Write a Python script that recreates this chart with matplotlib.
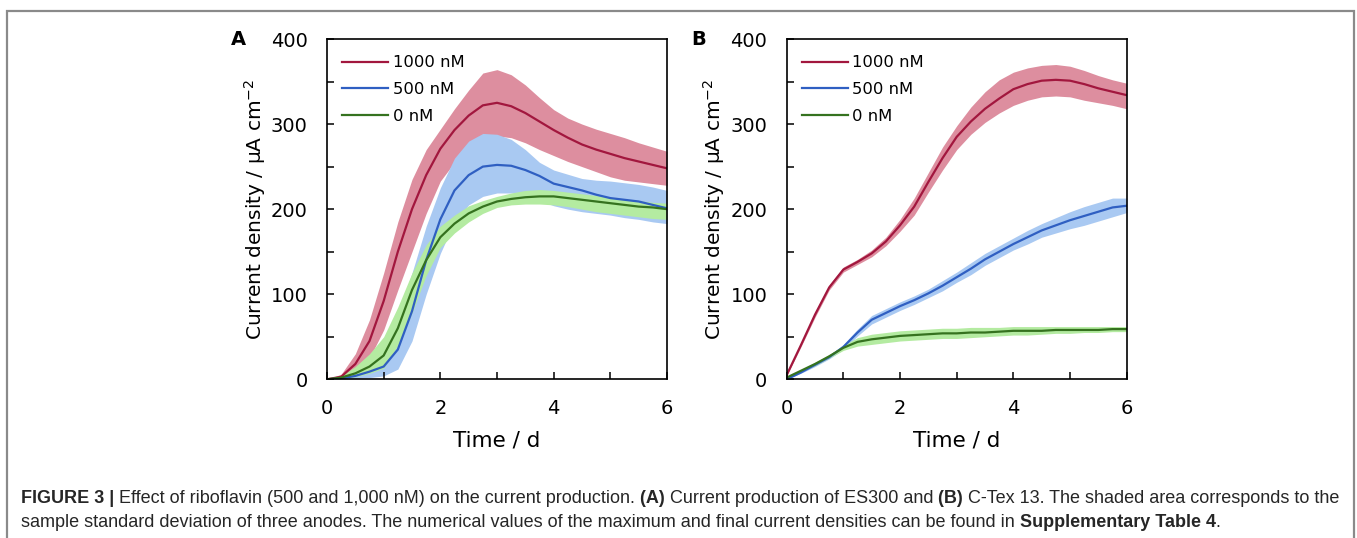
import matplotlib
matplotlib.use('Agg')
import matplotlib.pyplot as plt
from matplotlib import font_manager
from matplotlib.patches import Rectangle
from matplotlib.ticker import MultipleLocator

# sampling times (d)
days = [0, 0.25, 0.5, 0.75, 1, 1.25, 1.5, 1.75, 2, 2.25, 2.5, 2.75, 3,
        3.25, 3.5, 3.75, 4, 4.25, 4.5, 4.75, 5, 5.25, 5.5, 5.75, 6]

# panel A: ES300 (mean, lower, upper) in uA cm-2
a_1000 = [0, 3, 18, 45, 92, 150, 200, 240, 271, 293, 310, 322, 325,
          321, 313, 303, 293, 284, 276, 270, 265, 260, 256, 252, 248]
a_1000_lo = [0, 1, 8, 25, 58, 105, 150, 195, 233, 255, 272, 282, 286,
             284, 278, 270, 263, 256, 250, 244, 238, 234, 232, 230, 228]
a_1000_hi = [0, 6, 30, 70, 125, 185, 235, 270, 294, 318, 340, 360, 364,
             358, 346, 331, 317, 307, 300, 294, 289, 284, 278, 273, 268]
a_500 = [0, 1, 4, 9, 15, 35, 80, 140, 188, 222, 240, 250, 252,
         251, 246, 239, 230, 226, 222, 217, 213, 211, 209, 205, 201]
a_500_lo = [0, 0, 1, 2, 4, 12, 45, 100, 148, 185, 205, 215, 219,
            219, 218, 210, 204, 200, 197, 195, 193, 190, 188, 185, 183]
a_500_hi = [0, 2, 10, 22, 40, 75, 125, 180, 225, 260, 280, 289, 288,
            282, 270, 255, 246, 241, 236, 234, 233, 231, 229, 226, 222]
a_0 = [0, 2, 7, 15, 28, 60, 105, 140, 167, 183, 195, 203, 209,
       212, 214, 215, 215, 213, 211, 209, 207, 205, 203, 202, 200]
a_0_lo = [0, 1, 3, 7, 13, 40, 78, 122, 155, 172, 185, 195, 202,
          205, 206, 206, 205, 203, 200, 197, 195, 193, 191, 189, 188]
a_0_hi = [0, 4, 15, 30, 50, 85, 125, 158, 180, 193, 204, 210, 215,
          219, 222, 223, 222, 220, 218, 216, 214, 212, 210, 208, 207]

# panel B: C-Tex 13
b_1000 = [5, 40, 76, 108, 129, 138, 148, 162, 181, 203, 232, 260, 285,
          303, 318, 330, 341, 347, 351, 352, 351, 347, 342, 338, 334]
b_1000_lo = [4, 38, 73, 105, 126, 135, 144, 157, 174, 193, 220, 246, 270,
             288, 302, 313, 322, 328, 332, 333, 332, 328, 325, 322, 318]
b_1000_hi = [6, 42, 79, 111, 132, 141, 152, 167, 188, 213, 243, 273, 298,
             320, 338, 352, 361, 366, 369, 370, 368, 363, 357, 352, 348]
b_500 = [0, 8, 17, 26, 38, 55, 70, 78, 86, 93, 101, 110, 120,
         130, 141, 150, 159, 167, 175, 181, 187, 192, 197, 202, 204]
b_500_lo = [0, 7, 15, 24, 35, 51, 65, 73, 81, 88, 96, 104, 114,
            123, 134, 143, 152, 159, 167, 172, 177, 181, 186, 191, 196]
b_500_hi = [0, 9, 19, 28, 41, 59, 75, 83, 91, 98, 106, 116, 126,
            137, 148, 157, 166, 175, 183, 190, 197, 203, 208, 213, 213]
b_0 = [2, 10, 18, 27, 37, 44, 47, 49, 51, 52, 53, 54, 54,
       55, 55, 56, 57, 57, 57, 58, 58, 58, 58, 59, 59]
b_0_lo = [1, 9, 16, 25, 34, 39, 41, 43, 45, 46, 47, 48, 48,
          49, 50, 51, 52, 52, 53, 54, 54, 55, 55, 56, 56]
b_0_hi = [3, 11, 20, 29, 40, 49, 53, 55, 57, 58, 59, 60, 60,
          61, 61, 61, 62, 62, 62, 62, 62, 62, 62, 62, 62]

labels = ['1000 nM', '500 nM', '0 nM']
line_colors = ['#a2173e', '#2f5fc2', '#35721f']
fill_colors = ['#dd8e9f', '#a9c9f2', '#b4eba1']

W, H = 1357, 538
fig = plt.figure(figsize=(W / 100, H / 100), dpi=100)


def draw_panel(ax, series, letter):
    """Draws the three shaded bands first, then the mean lines on top"""
    for (mean, lo, hi), fc in zip(series, fill_colors):
        ax.fill_between(days, lo, hi, color=fc, lw=0)
    for (mean, lo, hi), lc, lab in zip(series, line_colors, labels):
        ax.plot(days, mean, color=lc, lw=1.6, label=lab)
    ax.set_xlim(0, 6)
    ax.set_ylim(0, 400)
    ax.xaxis.set_major_locator(MultipleLocator(2))
    ax.xaxis.set_minor_locator(MultipleLocator(1))
    ax.yaxis.set_major_locator(MultipleLocator(100))
    ax.yaxis.set_minor_locator(MultipleLocator(50))
    ax.tick_params(which='both', direction='in', length=5, width=1.1,
                   labelsize=14, pad=14)
    for sp in ax.spines.values():
        sp.set_linewidth(1.2)
    ax.set_xlabel('Time / d', fontsize=15.5)
    ax.set_ylabel('Current density / μA cm$^{-2}$', fontsize=14.5)
    ax.xaxis.set_label_coords(0.5, -0.15)
    ax.yaxis.set_label_coords(-0.175, 0.5)
    ax.legend(loc='upper left', bbox_to_anchor=(0.044, 0.952), frameon=False,
              fontsize=11.8, handlelength=2.8, handletextpad=0.3,
              borderaxespad=0, borderpad=0, labelspacing=0.72)
    ax.text(-0.26, 1.0, letter, transform=ax.transAxes, fontsize=14,
            fontweight='bold', ha='center', va='center')


ax_a = fig.add_axes([327 / W, (H - 379.3) / H, 340 / W, 340.3 / H])
ax_b = fig.add_axes([786.7 / W, (H - 379.3) / H, 340 / W, 340.3 / H])
draw_panel(ax_a, [(a_1000, a_1000_lo, a_1000_hi), (a_500, a_500_lo, a_500_hi),
                  (a_0, a_0_lo, a_0_hi)], 'A')
draw_panel(ax_b, [(b_1000, b_1000_lo, b_1000_hi), (b_500, b_500_lo, b_500_hi),
                  (b_0, b_0_lo, b_0_hi)], 'B')

# grey frame round the figure, open at the bottom
fig.patches.append(Rectangle((7 / W, -0.1), (1354 - 7) / W, (H - 11) / H + 0.1,
                             transform=fig.transFigure, fill=False,
                             ec='#8a8a8a', lw=1.6, clip_on=False))

# caption, written run by run so the bold parts can sit inline
names = {f.name for f in font_manager.fontManager.ttflist}
cap_font = 'Liberation Sans Narrow' if 'Liberation Sans Narrow' in names else 'Liberation Sans'
line1 = [('FIGURE 3 |', 'bold'),
         (' Effect of riboflavin (500 and 1,000 nM) on the current production.', 'normal'),
         (' (A)', 'bold'), (' Current production of ES300 and', 'normal'),
         (' (B)', 'bold'), (' C-Tex 13. The shaded area corresponds to the', 'normal')]
line2 = [('sample standard deviation of three anodes. The numerical values of the maximum '
          'and final current densities can be found in', 'normal'),
         (' Supplementary Table 4', 'bold'), ('.', 'normal')]

renderer = fig.canvas.get_renderer()


def draw_runs(runs, x0, y, size):
    x = x0
    for txt, weight in runs:
        t = fig.text(x / W, y / H, txt, fontsize=size, fontweight=weight,
                     family=cap_font, color='#262626', ha='left', va='baseline')
        x += t.get_window_extent(renderer).width
    return x - x0


# pick a size so the first line spans the same width as the reference
probe = sum(fig.text(0, 0, t, fontsize=10, fontweight=w, family=cap_font)
            .get_window_extent(renderer).width for t, w in line1)
for t in list(fig.texts):
    t.remove()
cap_size = 10 * (1342 - 21) / probe
draw_runs(line1, 21, H - 503, cap_size)
draw_runs(line2, 21, H - 527, cap_size)

fig.savefig('out.png', dpi=100)
